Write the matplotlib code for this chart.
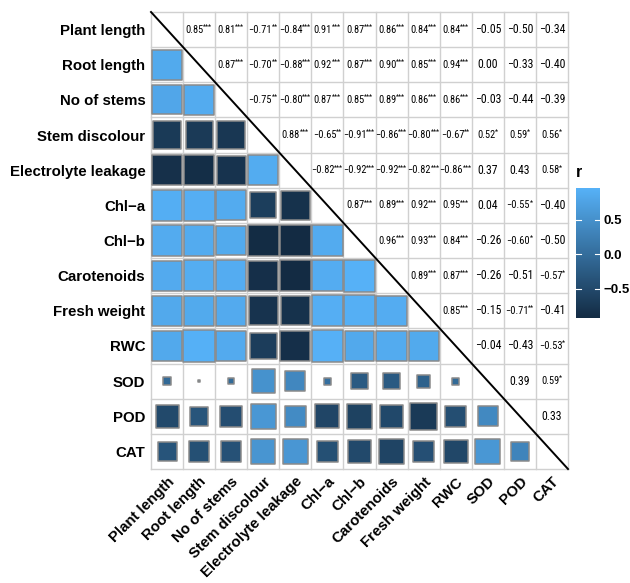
import matplotlib
matplotlib.use("Agg")
import matplotlib.pyplot as plt
import numpy as np
from matplotlib import font_manager
from matplotlib.colors import LinearSegmentedColormap, Normalize

# Trait names
labels = ["Plant length", "Root length", "No of stems", "Stem discolour",
          "Electrolyte leakage", "Chl\u2212a", "Chl\u2212b", "Carotenoids",
          "Fresh weight", "RWC", "SOD", "POD", "CAT"]

# Pearson r of each trait with the traits that follow it
r_upper = [
    [0.85, 0.81, -0.71, -0.84, 0.91, 0.87, 0.86, 0.84, 0.84, -0.05, -0.50, -0.34],
    [0.87, -0.70, -0.88, 0.92, 0.87, 0.90, 0.85, 0.94, 0.00, -0.33, -0.40],
    [-0.75, -0.80, 0.87, 0.85, 0.89, 0.86, 0.86, -0.03, -0.44, -0.39],
    [0.88, -0.65, -0.91, -0.86, -0.80, -0.67, 0.52, 0.59, 0.56],
    [-0.82, -0.92, -0.92, -0.82, -0.86, 0.37, 0.43, 0.58],
    [0.87, 0.89, 0.92, 0.95, 0.04, -0.55, -0.40],
    [0.96, 0.93, 0.84, -0.26, -0.60, -0.50],
    [0.89, 0.87, -0.26, -0.51, -0.57],
    [0.85, -0.15, -0.71, -0.41],
    [-0.04, -0.43, -0.53],
    [0.39, 0.59],
    [0.33],
]

# significance marks, same layout as r_upper
sig_upper = [
    ["***", "***", "**", "***", "***", "***", "***", "***", "***", "", "", ""],
    ["***", "**", "***", "***", "***", "***", "***", "***", "", "", ""],
    ["**", "***", "***", "***", "***", "***", "***", "", "", ""],
    ["***", "**", "***", "***", "***", "**", "*", "*", "*"],
    ["***", "***", "***", "***", "***", "", "", "*"],
    ["***", "***", "***", "***", "", "*", ""],
    ["***", "***", "***", "", "*", ""],
    ["***", "***", "", "", "*"],
    ["***", "", "**", ""],
    ["", "", "*"],
    ["", "*"],
    [""],
]

installed = {f.name for f in font_manager.fontManager.ttflist}
label_font = "Liberation Sans" if "Liberation Sans" in installed else "DejaVu Sans"
num_font = label_font
num_size = 6.9
for cand in ["Liberation Sans Narrow", "Roboto Condensed", "Noto Sans Condensed",
             "Open Sans Condensed"]:
    if cand in installed:
        num_font = cand
        num_size = 8.5
        break

n = len(labels)
r = np.eye(n)
sig = [["" for _ in range(n)] for _ in range(n)]
for i, row in enumerate(r_upper):
    for k, v in enumerate(row):
        j = i + 1 + k
        r[i, j] = r[j, i] = v
        sig[i][j] = sig_upper[i][k]

fig = plt.figure(figsize=(6.3, 5.83), dpi=100)
ax = fig.add_axes([0.2397, 0.1955, 0.6619, 0.7839])
ax.set_xlim(0, n)
ax.set_ylim(n, 0)

# cell grid
for k in range(n + 1):
    ax.axhline(k, color="#d0d0d0", lw=1, zorder=1, clip_on=False)
    ax.axvline(k, color="#d0d0d0", lw=1, zorder=1, clip_on=False)

# lower triangle: squares sized and coloured by r
cmap = LinearSegmentedColormap.from_list("r_blue", ["#132B43", "#56B1F7"])
rows, cols = np.tril_indices(n, -1)
vals = r[rows, cols]
norm = Normalize(vals.min(), vals.max())
sc = ax.scatter(cols + 0.5, rows + 0.5, s=540 * np.abs(vals) + 3, c=vals,
                cmap=cmap, norm=norm, marker="s", edgecolors="#8a8a8a",
                linewidths=1.1, zorder=3)

# upper triangle: r values with raised stars
pairs = []
for i in range(n):
    for j in range(i + 1, n):
        txt = f"{r[i, j]:.2f}".replace("-", "\u2212")
        size = num_size * (0.88 if sig[i][j] else 1.0)
        t = ax.annotate(txt, (j + 0.5, i + 0.5), xytext=(0, 0),
                        textcoords="offset points", ha="center", va="center",
                        fontsize=size, family=num_font, zorder=4)
        s = None
        if sig[i][j]:
            s = ax.annotate(sig[i][j], (j + 0.5, i + 0.5), xytext=(0, 0),
                            textcoords="offset points", ha="left", va="center",
                            fontsize=num_size * 0.6, family=num_font, zorder=4)
        pairs.append((t, s))

renderer = fig.canvas.get_renderer()
k_pt = 72.0 / fig.dpi
for t, s in pairs:
    if s is None:
        continue
    wn = t.get_window_extent(renderer).width * k_pt
    ws = s.get_window_extent(renderer).width * k_pt
    t.xyann = (-ws / 2, 0)
    s.xyann = (wn / 2 - ws / 2 - 0.3, 1.6)

ax.plot([0, n], [0, n], color="black", lw=1.4, zorder=5, clip_on=False)

ax.set_xticks(np.arange(n) + 0.5)
ax.set_yticks(np.arange(n) + 0.5)
ax.set_xticklabels(labels, rotation=45, ha="right", va="top",
                   rotation_mode="anchor", fontweight="bold", fontsize=10.8,
                   family=label_font)
ax.set_yticklabels(labels, fontweight="bold", fontsize=10.8, family=label_font)
ax.tick_params(length=0, pad=4)
for sp in ax.spines.values():
    sp.set_visible(False)

# colour bar
cax = fig.add_axes([0.914, 0.4545, 0.038, 0.223])
cb = fig.colorbar(sc, cax=cax)
cb.outline.set_visible(False)
ticks = [-0.5, 0.0, 0.5]
cb.set_ticks(ticks)
cb.set_ticklabels(["\u22120.5", "0.0", "0.5"])
for lab in cax.get_yticklabels():
    lab.set_fontweight("bold")
    lab.set_fontsize(9.5)
    lab.set_family(label_font)
cax.tick_params(length=0, pad=3)
for t in ticks:
    cax.plot([0, 0.2], [t, t], color="white", lw=0.8)
    cax.plot([0.8, 1], [t, t], color="white", lw=0.8)
cax.set_title("r", loc="left", fontweight="bold", fontsize=11.5,
              family=label_font, pad=8)

fig.savefig("out.png", dpi=100)
